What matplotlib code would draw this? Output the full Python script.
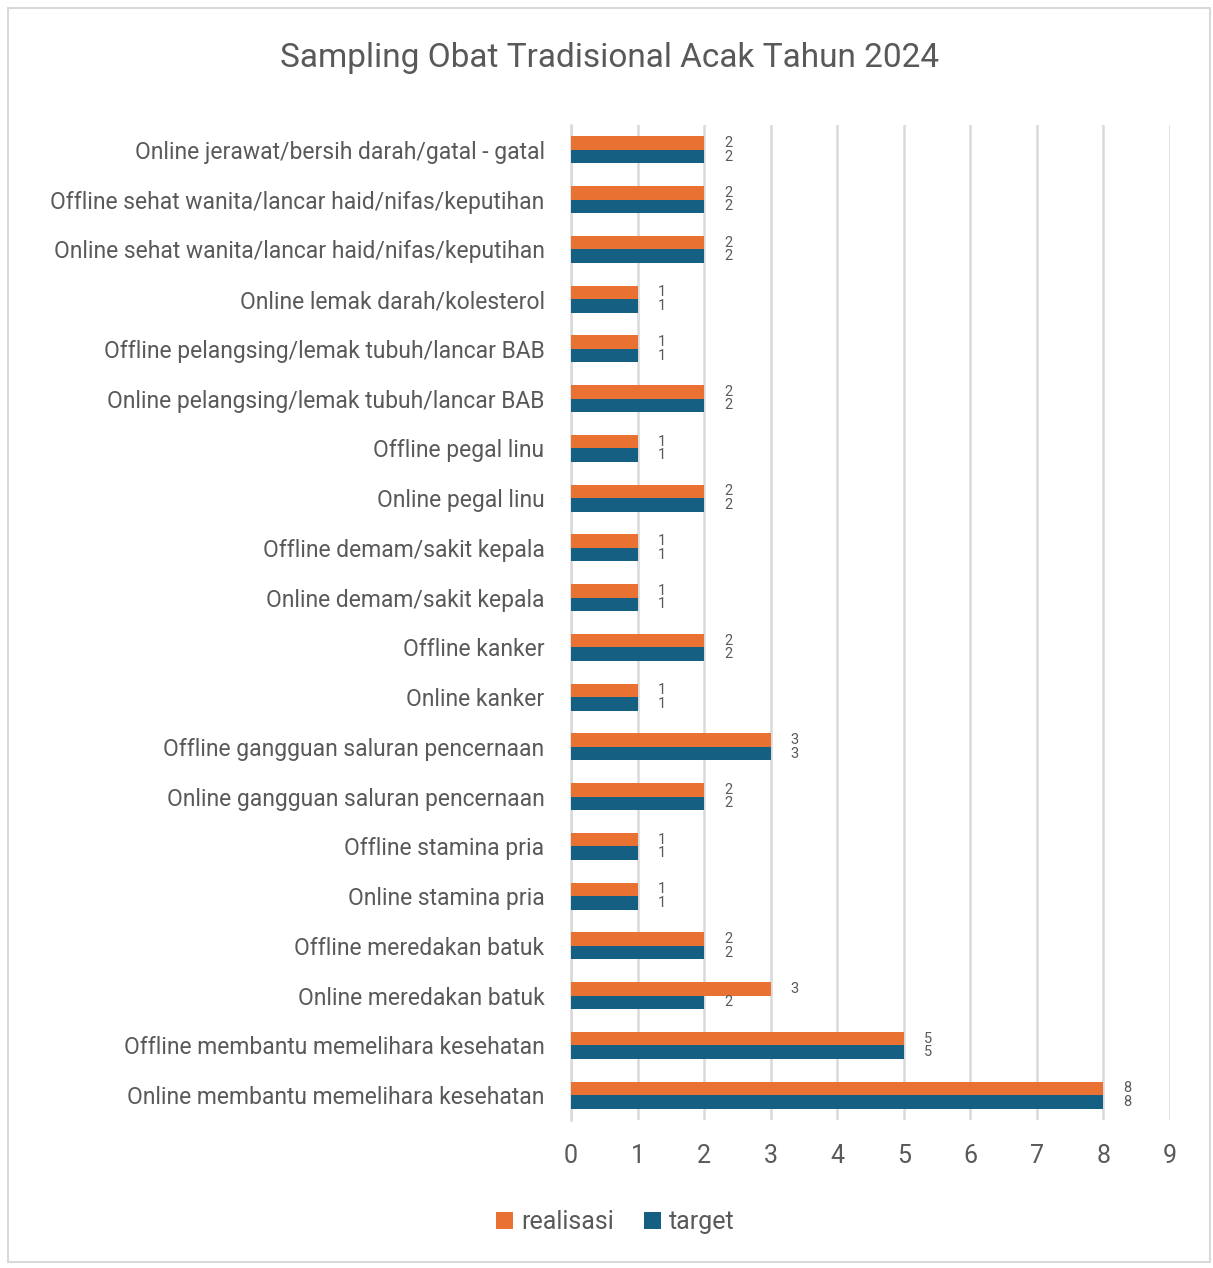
import matplotlib
matplotlib.use("Agg")
import matplotlib.pyplot as plt
import numpy as np
from matplotlib.patches import Rectangle

categories = [
    "Online jerawat/bersih darah/gatal - gatal",
    "Offline sehat wanita/lancar haid/nifas/keputihan",
    "Online sehat wanita/lancar haid/nifas/keputihan",
    "Online lemak darah/kolesterol",
    "Offline pelangsing/lemak tubuh/lancar BAB",
    "Online pelangsing/lemak tubuh/lancar BAB",
    "Offline pegal linu",
    "Online pegal linu",
    "Offline demam/sakit kepala",
    "Online demam/sakit kepala",
    "Offline kanker",
    "Online kanker",
    "Offline gangguan saluran pencernaan",
    "Online gangguan saluran pencernaan",
    "Offline stamina pria",
    "Online stamina pria",
    "Offline meredakan batuk",
    "Online meredakan batuk",
    "Offline membantu memelihara kesehatan",
    "Online membantu memelihara kesehatan",
]
realisasi = [2, 2, 2, 1, 1, 2, 1, 2, 1, 1, 2, 1, 3, 2, 1, 1, 2, 3, 5, 8]
target    = [2, 2, 2, 1, 1, 2, 1, 2, 1, 1, 2, 1, 3, 2, 1, 1, 2, 2, 5, 8]
xticks = list(range(0, 10))

plt.rcParams['font.family'] = ['Roboto', 'DejaVu Sans']
txt = '#595959'
c_real = '#E97132'
c_targ = '#156082'

fig = plt.figure(figsize=(12.13, 12.68), dpi=100)
fig.patches.append(Rectangle((8/1213, 1 - 1262/1268), 1202/1213, 1254/1268,
                             transform=fig.transFigure, fill=False,
                             edgecolor='#D9D9D9', linewidth=1.5))
ax = fig.add_axes([571/1213, 1 - 1120/1268, 599/1213, 995/1268])

n = len(categories)
y = np.arange(n)[::-1]
h = 0.27
b1 = ax.barh(y + h/2, realisasi, height=h, color=c_real, label='realisasi', zorder=3)
b2 = ax.barh(y - h/2, target, height=h, color=c_targ, label='target', zorder=3)

for yy, v in zip(y + h/2, realisasi):
    ax.text(v + 0.3, yy, str(v), va='center', ha='left', fontsize=10.5, color=txt)
for yy, v in zip(y - h/2, target):
    ax.text(v + 0.3, yy, str(v), va='center', ha='left', fontsize=10.5, color=txt)

ax.set_xlim(0, 9)
ax.set_ylim(-0.5, n - 0.5)
ax.set_xticks(xticks)
ax.set_xticklabels([str(t) for t in xticks], fontsize=18, color=txt)
ax.set_yticks(y)
ax.set_yticklabels(categories, fontsize=16.5, color=txt)
ax.tick_params(axis='both', length=0)
ax.tick_params(axis='x', pad=17)
ax.tick_params(axis='y', pad=19)
ax.grid(axis='x', color='#D9D9D9', linewidth=1.8, zorder=0)
for s in ['top', 'right', 'bottom']:
    ax.spines[s].set_visible(False)
ax.spines['left'].set_color('#D9D9D9')
ax.spines['left'].set_linewidth(1.8)

fig.text(610/1213, 1 - 58/1268, 'Sampling Obat Tradisional Acak Tahun 2024',
         ha='center', va='center', fontsize=24, color=txt)

fig.legend(handles=[b1, b2], labels=['realisasi', 'target'], loc='center',
           bbox_to_anchor=(615/1213, 1 - 1222/1268), ncol=2, frameon=False,
           fontsize=18, labelcolor=txt, handlelength=0.7, handleheight=0.7,
           handletextpad=0.3, columnspacing=1.2)

fig.savefig('out.png', dpi=100)
